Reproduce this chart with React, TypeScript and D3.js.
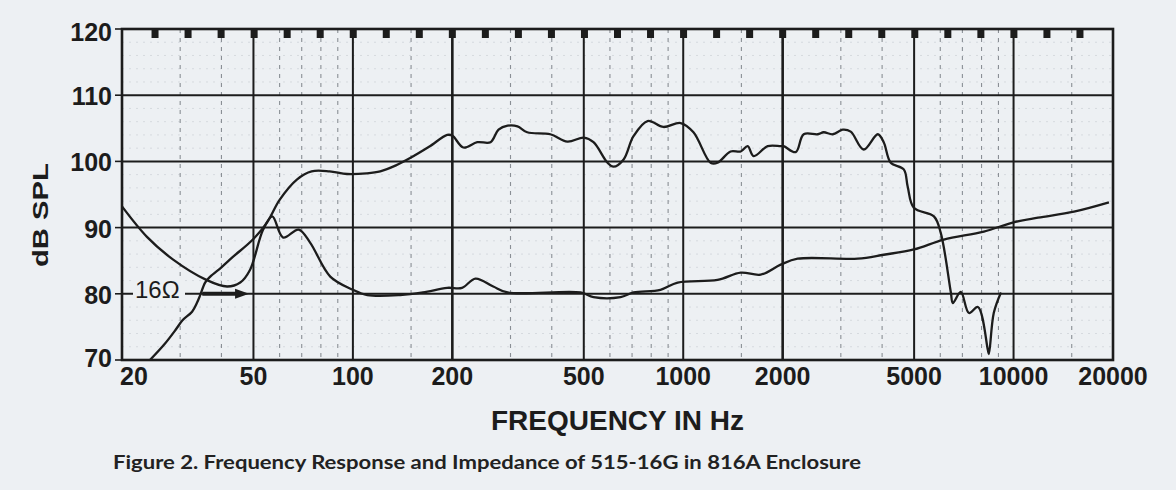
import React from "react";
import * as d3 from "d3";

// ---- data ----
const responseFreq = [24.3, 27, 29, 30.5, 32.6, 33.7, 34.5, 35.7, 37, 40, 43.4, 49.8, 55, 60, 67.8, 75, 85, 96, 110, 121, 135, 149, 170, 193, 200, 216, 238, 261, 276, 294, 315, 337, 396, 446, 500, 535, 590, 615, 660, 707, 780, 871, 982, 1074, 1210, 1270, 1391, 1493, 1567, 1634, 1802, 1972, 2014, 2190, 2316, 2554, 2662, 2836, 3040, 3214, 3518, 3880, 4045, 4248, 4652, 4780, 4990, 5740, 6020, 6460, 6550, 6920, 7330, 7800, 8360, 8420, 8710, 9160];
const responseDb = [70, 72.5, 74.5, 76, 77.3, 78.6, 79.8, 81.7, 82.6, 84, 85.6, 88.2, 90.8, 94.2, 97.3, 98.5, 98.5, 98.1, 98.2, 98.5, 99.4, 100.5, 102.2, 104, 103.9, 102.1, 102.9, 102.9, 104.8, 105.4, 105.3, 104.4, 104.1, 103, 103.6, 102.9, 99.8, 99.2, 100.3, 103.8, 106.1, 105.2, 105.8, 104.4, 99.8, 99.8, 101.5, 101.5, 102.3, 100.8, 102.3, 102.3, 102.3, 101.4, 104.1, 104.1, 104.4, 104.1, 104.8, 104.5, 101.8, 104.1, 102.9, 99.8, 98.8, 96.2, 93, 91.7, 89.2, 80.2, 78.6, 80.3, 77.1, 78, 71.5, 70.9, 77.1, 80.2];

const impedanceFreq = [20, 23.8, 28.5, 36, 41.6, 45.6, 48.8, 53.5, 57, 61.5, 68.5, 74.3, 85.4, 100, 110.6, 139, 163, 193, 214, 235, 266, 294, 489, 535, 646, 707, 853, 962, 1270, 1493, 1716, 1972, 2220, 3376, 4045, 4990, 6150, 8130, 10000, 11860, 15240, 19440];
const impedanceDb = [93.2, 88.6, 85.2, 82.1, 81.1, 81.7, 83.6, 89.7, 91.7, 88.5, 89.7, 87.7, 82.6, 80.6, 79.8, 79.8, 80.2, 80.9, 80.9, 82.3, 81.1, 80.2, 80.2, 79.5, 79.5, 80.2, 80.6, 81.7, 82.1, 83.2, 82.9, 84.4, 85.3, 85.3, 85.9, 86.7, 88.2, 89.4, 90.8, 91.5, 92.4, 93.8];

const xTickValues = [20, 50, 100, 200, 500, 1000, 2000, 5000, 10000, 20000];
const xMajorGrid = [50, 100, 200, 500, 1000, 2000, 5000, 10000];
const xMinorGrid = [30, 40, 60, 70, 80, 90, 150, 300, 400, 600, 700, 800, 900, 1500, 3000, 4000, 6000, 7000, 8000, 9000, 15000];
const yTickValues = [70, 80, 90, 100, 110, 120];
const yMajorGrid = [80, 90, 100, 110];

const nominalLabel = "16Ω";
const nominalDb = 80;
const arrowFrom = 35;
const arrowTo = 48.5;

const xTitle = "FREQUENCY IN Hz";
const yTitle = "dB SPL";
const caption = "Figure 2. Frequency Response and Impedance of 515-16G in 816A Enclosure";

// ---- layout ----
const W = 1176;
const H = 490;
const L = 122, R = 1113, T = 29, B = 360;
const BG = "#edf0f3";
const INK = "#1c1c1c";

export default function App() {
  const x = d3.scaleLog().domain([20, 20000]).range([L, R]);
  const y = d3.scaleLinear().domain([70, 120]).range([B, T]);

  const line = d3
    .line<[number, number]>()
    .x((d) => x(d[0]))
    .y((d) => y(d[1]))
    .curve(d3.curveCatmullRom.alpha(0.5));

  const resp = responseFreq.map((f, i) => [f, responseDb[i]] as [number, number]);
  const imp = impedanceFreq.map((f, i) => [f, impedanceDb[i]] as [number, number]);

  const faintY = d3.range(72, 120, 2).filter((v) => v % 10 !== 0);
  const sprocketFreqs = d3.range(1, 30).map((k) => 20 * Math.pow(10, k / 10));

  const ay = y(nominalDb);
  const ax0 = x(arrowFrom);
  const ax1 = x(arrowTo);

  return (
    <svg
      width={W}
      height={H}
      style={{ position: "absolute", left: 0, top: 0, background: BG }}
    >
      <rect x={0} y={0} width={W} height={H} fill={BG} />
      <defs>
        <clipPath id="plotclip">
          <rect x={L} y={T} width={R - L} height={B - T} />
        </clipPath>
      </defs>

      {/* faint horizontal grid */}
      {faintY.map((v) => (
        <line key={"fy" + v} x1={L} x2={R} y1={y(v)} y2={y(v)} stroke="#d6dadf" strokeWidth={1} strokeDasharray="2,5" />
      ))}

      {/* minor vertical grid */}
      {xMinorGrid.map((f) => (
        <line key={"mv" + f} x1={x(f)} x2={x(f)} y1={T} y2={B} stroke="#8a8f95" strokeWidth={1.1} strokeDasharray="4,5" />
      ))}

      {/* major vertical grid */}
      {xMajorGrid.map((f) => (
        <line key={"Mv" + f} x1={x(f)} x2={x(f)} y1={T} y2={B} stroke={INK} strokeWidth={f === 200 || f === 2000 ? 2.6 : 2} />
      ))}

      {/* major horizontal grid */}
      {yMajorGrid.map((v) => (
        <line key={"Mh" + v} x1={L} x2={R} y1={y(v)} y2={y(v)} stroke={INK} strokeWidth={2} />
      ))}

      {/* sprocket marks along top */}
      {sprocketFreqs.map((f, i) => (
        <rect key={"sp" + i} x={x(f) - 3.5} y={T} width={7} height={9} fill={INK} />
      ))}

      {/* frame */}
      <rect x={L} y={T} width={R - L} height={B - T} fill="none" stroke={INK} strokeWidth={2.6} />

      {/* left ticks */}
      {yTickValues.map((v) => (
        <line key={"lt" + v} x1={L - 7} x2={L} y1={y(v)} y2={y(v)} stroke={INK} strokeWidth={1.6} />
      ))}

      {/* 16 ohm label with knock-out background */}
      <rect x={x(20) + 11} y={ay - 14} width={52} height={26} fill={BG} />
      <text x={x(20) + 13} y={ay + 4} fontFamily="Liberation Sans, Arial, sans-serif" fontSize={24} fill={INK}>
        {nominalLabel}
      </text>
      <line x1={ax0} x2={ax1 - 12} y1={ay} y2={ay} stroke={INK} strokeWidth={4} />
      <path d={`M${ax1},${ay} L${ax1 - 14},${ay - 5} L${ax1 - 14},${ay + 5} Z`} fill={INK} />

      {/* curves */}
      <g clipPath="url(#plotclip)">
        <path d={line(imp) || ""} fill="none" stroke={INK} strokeWidth={2.3} strokeLinejoin="round" />
        <path d={line(resp) || ""} fill="none" stroke={INK} strokeWidth={2.3} strokeLinejoin="round" />
      </g>

      {/* y tick labels */}
      {yTickValues.map((v) => (
        <text
          key={"yl" + v}
          x={112}
          y={y(v) + (v === 120 ? 12 : v === 70 ? 7 : 10)}
          textAnchor="end"
          fontFamily="Liberation Sans, Arial, sans-serif"
          fontWeight="bold"
          fontSize={25}
          fill={INK}
        >
          {v}
        </text>
      ))}

      {/* x tick labels */}
      {xTickValues.map((f) => (
        <text
          key={"xl" + f}
          x={f === 20 ? x(f) - 2 : x(f)}
          y={385}
          textAnchor={f === 20 ? "start" : "middle"}
          fontFamily="Liberation Sans, Arial, sans-serif"
          fontWeight="bold"
          fontSize={25}
          fill={INK}
        >
          {f}
        </text>
      ))}

      {/* axis titles */}
      <text
        x={(L + R) / 2}
        y={430}
        textAnchor="middle"
        fontFamily="Liberation Sans, Arial, sans-serif"
        fontWeight="bold"
        fontSize={28}
        fill={INK}
      >
        {xTitle}
      </text>
      <text
        transform={`translate(48,215) rotate(-90)`}
        textAnchor="middle"
        fontFamily="Liberation Sans, Arial, sans-serif"
        fontWeight="bold"
        fontSize={22}
        textLength={104}
        lengthAdjust="spacingAndGlyphs"
        fill={INK}
      >
        {yTitle}
      </text>

      {/* caption */}
      <text
        x={113}
        y={469}
        fontFamily="Lato, 'Open Sans', sans-serif"
        fontWeight="bold"
        fontSize={19}
        textLength={748}
        lengthAdjust="spacingAndGlyphs"
        fill="#222"
      >
        {caption}
      </text>
    </svg>
  );
}
